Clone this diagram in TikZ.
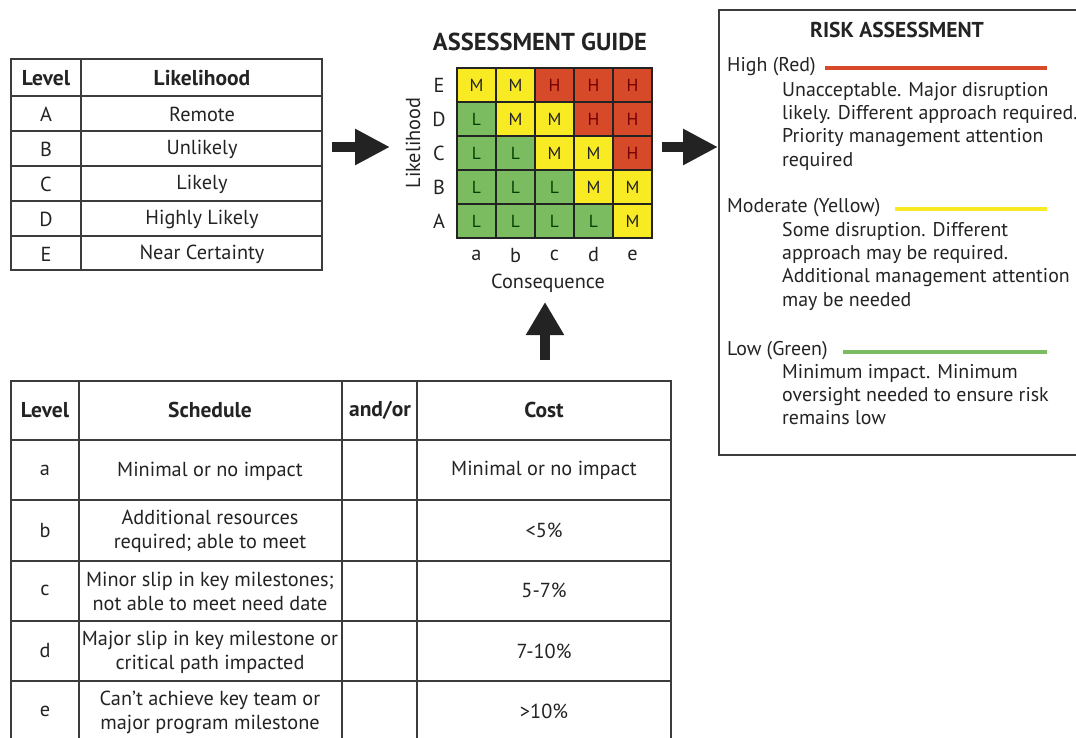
\documentclass[tikz,border=0pt]{standalone}
\usepackage{fontspec}
\setmainfont{PT Sans}
\usepackage{tikz}
\usetikzlibrary{positioning,calc,arrows.meta}
\definecolor{riskred}{RGB}{214,74,42}
\definecolor{riskyellow}{RGB}{248,234,35}
\definecolor{riskgreen}{RGB}{124,188,96}
\definecolor{tabgray}{RGB}{60,60,60}
\definecolor{inkblack}{RGB}{35,35,35}
\tikzset{
	tabline/.style={draw=tabgray, line width=1.6pt},
	hdr/.style={font=\fontsize{21.5}{24}\selectfont\bfseries, text=inkblack, inner sep=0pt},
	txt/.style={font=\fontsize{20.3}{24}\selectfont, text=inkblack, align=center, inner sep=0pt},
	title/.style={font=\fontsize{24.5}{26}\selectfont\bfseries, text=inkblack, inner sep=0pt},
	para/.style={font=\fontsize{19.9}{23.3}\selectfont, text=inkblack, align=left, inner sep=0pt, anchor=north west},
	riskcell/.style={draw=inkblack, line width=1.4pt, minimum width=39pt, minimum height=34pt, inner sep=0pt, font=\fontsize{17.5}{17.5}\selectfont},
	riskH/.style={fill=riskred, text=red!45!black},
	riskM/.style={fill=riskyellow, text=inkblack},
	riskL/.style={fill=riskgreen, text=green!25!black},
	fatarrow/.style={draw=inkblack, line width=10pt, -{Triangle[length=35pt, width=34pt]}}
}
\begin{document}
\begin{tikzpicture}[x=1pt, y=-1pt]
	\useasboundingbox (0,0) rectangle (1076,738);

	\draw[tabline] (11,59) rectangle (322,270);
	\draw[tabline] (81,59) -- (81,270);
	\foreach \y in {96,131,166,201,236}
		\draw[tabline] (11,\y) -- (322,\y);
	\node[hdr] (lvlhead) at (46,78) {Level};
	\node[hdr] (likhead) at (202,78) {Likelihood};
	\foreach \l/\t [count=\i from 0] in {A/Remote, B/Unlikely, C/Likely, D/Highly Likely, E/Near Certainty} {
		\node[txt] (lvl\l) at (46,114+35*\i) {\l};
		\node[txt] (lik\l) at (202,114+35*\i) {\t};
	}

	\node[title] (guide) at (540,42) {ASSESSMENT GUIDE};
	\foreach \row [count=\j from 0] in {{M,M,H,H,H},{L,M,M,H,H},{L,L,M,M,H},{L,L,L,M,M},{L,L,L,L,M}} {
		\foreach \v [count=\i from 0] in \row
			\node[riskcell, risk\v] (m-\j-\i) at (476.5+39*\i,85+34*\j) {\v};
	}
	\foreach \l [count=\j from 0] in {E,D,C,B,A}
		\node[txt] (row\l) at (439,85+34*\j) {\l};
	\foreach \l [count=\i from 0] in {a,b,c,d,e}
		\node[txt] (col\l) at (476.5+39*\i,255) {\l};
	\node[txt] (conseq) at (548,283) {Consequence};
	\node[txt, rotate=90] (likaxis) at (413,143) {Likelihood};

	\draw[tabgray, line width=1.6pt] (1076,10) -- (719,10) -- (719,455) -- (1076,455);
	\node[title, font=\fontsize{21.5}{24}\selectfont\bfseries] (riskhead) at (897,30) {RISK ASSESSMENT};
	\node[para, anchor=base west] (high) at (727,72) {High (Red)};
	\draw[riskred, line width=3.5pt] (825,68) -- (1047,68);
	\node[para] (highdesc) at (782,82) {Unacceptable. Major disruption\\likely. Different approach required.\\Priority management attention\\required};
	\node[para, anchor=base west] (mod) at (727,212) {Moderate (Yellow)};
	\draw[riskyellow, line width=3.5pt] (895,209) -- (1047,209);
	\node[para] (moddesc) at (782,222) {Some disruption. Different\\approach may be required.\\Additional management attention\\may be needed};
	\node[para, anchor=base west] (low) at (727,355) {Low (Green)};
	\draw[riskgreen, line width=3.5pt] (843,352) -- (1047,352);
	\node[para] (lowdesc) at (782,364) {Minimum impact. Minimum\\oversight needed to ensure risk\\remains low};

	\draw[tabline] (11,738) -- (11,381) -- (671,381) -- (671,738);
	\foreach \x in {79,342,417}
		\draw[tabline] (\x,381) -- (\x,738);
	\foreach \y in {440,500,561,621,681}
		\draw[tabline] (11,\y) -- (671,\y);
	\node[hdr] (lvlhead2) at (45,410) {Level};
	\node[hdr] (schedhead) at (210,410) {Schedule};
	\node[hdr] (andor) at (380,410) {and/or};
	\node[hdr] (costhead) at (544,410) {Cost};
	\foreach \l/\s/\c [count=\i from 0] in {a/Minimal or no impact/Minimal or no impact,
			b/Additional resources\\required; able to meet/<5\%,
			c/Minor slip in key milestones;\\not able to meet need date/5-7\%,
			d/Major slip in key milestone or\\critical path impacted/7-10\%,
			e/Can't achieve key team or\\major program milestone/>10\%} {
		\node[txt] (lvl2\l) at (45,470+60.3*\i) {\l};
		\node[txt] (sched\l) at (210,471+60.3*\i) {\s};
		\node[txt] (cost\l) at (544,470+60.3*\i) {\c};
	}

	\coordinate (a1s) at (332,147);
	\coordinate (a1e) at (390,147);
	\coordinate (a2s) at (662,147);
	\coordinate (a2e) at (718,147);
	\coordinate (a3s) at (545,360);
	\coordinate (a3e) at (545,302);
	\draw[fatarrow] (a1s) -- (a1e);
	\draw[fatarrow] (a2s) -- (a2e);
	\draw[fatarrow, -{Triangle[length=33pt, width=36pt]}] (a3s) -- (a3e);
\end{tikzpicture}
\end{document}
